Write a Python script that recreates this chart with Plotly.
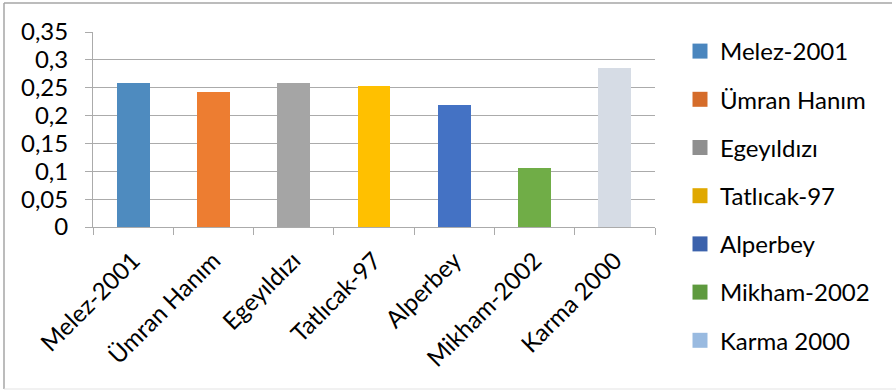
import plotly.graph_objects as go

# Varieties and measured values
varieties = ["Melez-2001", "Ümran Hanım", "Egeyıldızı", "Tatlıcak-97",
             "Alperbey", "Mikham-2002", "Karma 2000"]
values = [0.259, 0.243, 0.259, 0.253, 0.219, 0.106, 0.285]

# Y-axis ticks with comma decimals
y_ticks = [0, 0.05, 0.10, 0.15, 0.20, 0.25, 0.30, 0.35]
y_tick_labels = ["0", "0,05", "0,1", "0,15", "0,2", "0,25", "0,3", "0,35"]

bar_colors = ["#4E8BBF", "#ED7D31", "#A5A5A5", "#FFC000",
              "#4472C4", "#70AD47", "#D6DCE5"]
legend_colors = ["#4A86BE", "#D56C2A", "#8F8F8F", "#E0A800",
                 "#3B62AC", "#5E9A3E", "#99BAE0"]

FONT = "Lato"
FSIZE = 24
TEXT = "#000000"
GRID = "#ABABAB"

# Plot area in pixels
W, H = 896, 391
L, R, T, B = 93, 241, 32, 164
PW, PH = W - L - R, H - T - B


def px_x(px):
    return (px - L) / PW


def px_y(py):
    return (H - B - py) / PH


fig = go.Figure()

fig.add_trace(go.Bar(
    x=varieties, y=values,
    marker=dict(color=bar_colors, line=dict(width=0)),
    width=0.41,
    showlegend=False,
    hoverinfo="x+y",
))

# Legend entries, one per variety
for i, (name, col) in enumerate(zip(varieties, legend_colors)):
    fig.add_trace(go.Scatter(
        x=[None], y=[None], mode="markers", name=name,
        marker=dict(symbol="square", size=15, color=col),
        legendgroup=f"g{i}",
    ))

fig.update_layout(
    width=W, height=H,
    margin=dict(l=L, r=R, t=T, b=B, pad=0),
    paper_bgcolor="white", plot_bgcolor="white",
    font=dict(family=FONT, size=FSIZE, color=TEXT),
    bargap=0,
    legend=dict(
        x=px_x(680), xanchor="left",
        y=px_y(29), yanchor="top",
        tracegroupgap=14,
        maxheight=385,
        font=dict(family=FONT, size=FSIZE, color=TEXT),
        bgcolor="rgba(0,0,0,0)",
        itemclick=False, itemdoubleclick=False,
    ),
    xaxis=dict(
        type="category",
        tickangle=-45,
        showline=True, linecolor=GRID, linewidth=1,
        ticks="outside", tickson="boundaries", ticklen=7,
        tickcolor=GRID, tickwidth=1,
        ticklabelstandoff=9,
        showgrid=False,
        tickfont=dict(family=FONT, size=FSIZE, color=TEXT),
    ),
    yaxis=dict(
        range=[0, 0.35],
        tickvals=y_ticks, ticktext=y_tick_labels,
        showline=True, linecolor=GRID, linewidth=1,
        ticks="outside", ticklen=7, tickcolor=GRID, tickwidth=1,
        ticklabelstandoff=12,
        showgrid=True, gridcolor=GRID, gridwidth=1,
        zeroline=False,
        tickfont=dict(family=FONT, size=FSIZE, color=TEXT),
    ),
    shapes=[
        # chart frame
        dict(type="line", xref="paper", yref="paper",
             x0=px_x(4), x1=px_x(892), y0=px_y(3), y1=px_y(3),
             line=dict(color="#A6A6A6", width=1.5)),
        dict(type="line", xref="paper", yref="paper",
             x0=px_x(4), x1=px_x(4), y0=px_y(3), y1=px_y(389),
             line=dict(color="#A6A6A6", width=1.5)),
        dict(type="line", xref="paper", yref="paper",
             x0=px_x(4), x1=px_x(896), y0=px_y(389), y1=px_y(389),
             line=dict(color="#E3E3E3", width=1)),
    ],
)

fig.write_html("out.html")
